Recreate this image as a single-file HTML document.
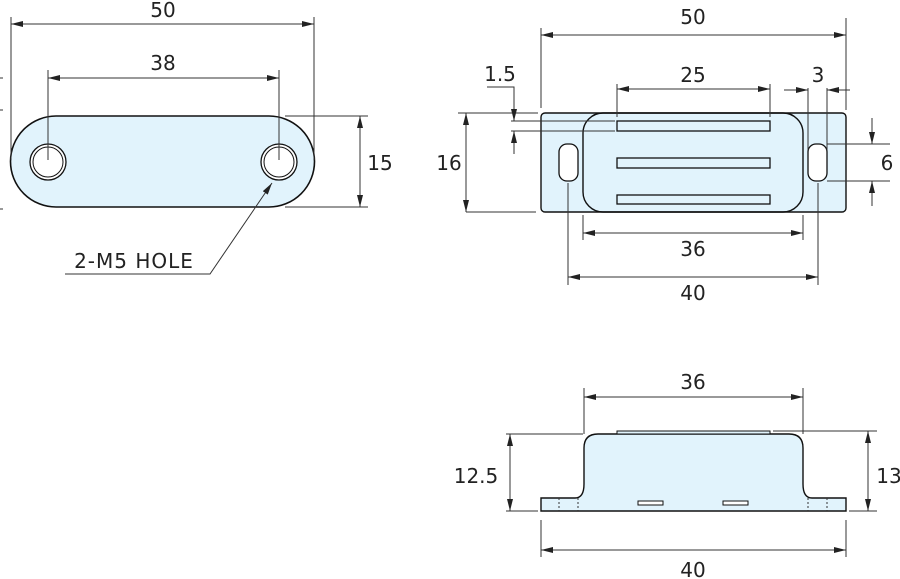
<!DOCTYPE html>
<html><head><meta charset="utf-8"><style>
html,body{margin:0;padding:0;background:#fff;}
svg{display:block;}
text{font-family:"DejaVu Sans","Liberation Sans",sans-serif;font-size:20px;fill:#222;text-anchor:middle;}
</style></head><body>
<svg width="900" height="579" viewBox="0 0 900 579" xmlns="http://www.w3.org/2000/svg">
<defs>
<marker id="a" viewBox="0 0 12 6" refX="12" refY="3" markerWidth="12" markerHeight="6" orient="auto-start-reverse" markerUnits="userSpaceOnUse">
<path d="M0,0 L12,3 L0,6 Z" fill="#222"/></marker>
</defs>
<g stroke="#333" stroke-width="1" fill="none">
<!-- LEFT VIEW -->
<path d="M56,116 H269 A45.5,45.5 0 0 1 269,207 H56 A45.5,45.5 0 0 1 56,116 Z" fill="#e1f3fc" stroke="#111" stroke-width="1.6"/>
<circle cx="48" cy="162" r="18" fill="#fff" stroke="#111" stroke-width="1.3"/>
<circle cx="48" cy="162" r="15" stroke="#111" stroke-width="1"/>
<circle cx="279" cy="162" r="18" fill="#fff" stroke="#111" stroke-width="1.3"/>
<circle cx="279" cy="162" r="15" stroke="#111" stroke-width="1"/>
<line x1="11" y1="17" x2="11" y2="160"/>
<line x1="314" y1="17" x2="314" y2="160"/>
<line x1="11" y1="24" x2="314" y2="24" marker-start="url(#a)" marker-end="url(#a)"/>
<line x1="48" y1="70" x2="48" y2="160"/>
<line x1="279" y1="70" x2="279" y2="160"/>
<line x1="48" y1="78" x2="279" y2="78" marker-start="url(#a)" marker-end="url(#a)"/>
<line x1="285" y1="116" x2="368" y2="116"/>
<line x1="285" y1="207" x2="368" y2="207"/>
<line x1="360" y1="116" x2="360" y2="207" marker-start="url(#a)" marker-end="url(#a)"/>
<polyline points="65,274 210,274 272,183" marker-end="url(#a)"/>
<line x1="0" y1="78" x2="3" y2="78"/><line x1="0" y1="110" x2="3" y2="110"/><line x1="0" y1="209" x2="3" y2="209"/>

<!-- TOP RIGHT VIEW -->
<rect x="541" y="113" width="305" height="99" rx="4" fill="#e1f3fc" stroke="#111" stroke-width="1.4"/>
<rect x="583" y="113" width="220" height="99" rx="20" stroke="#111" stroke-width="1.4"/>
<rect x="617" y="121" width="153" height="10" stroke="#111" stroke-width="1.3"/>
<rect x="617" y="158" width="153" height="10" stroke="#111" stroke-width="1.3"/>
<rect x="617" y="195" width="153" height="9" stroke="#111" stroke-width="1.3"/>
<rect x="559" y="144" width="19" height="37" rx="8" fill="#fff" stroke="#111" stroke-width="1.3"/>
<rect x="808" y="144" width="19" height="37" rx="8" fill="#fff" stroke="#111" stroke-width="1.3"/>
<line x1="541" y1="28" x2="541" y2="108"/>
<line x1="846" y1="18" x2="846" y2="110"/>
<line x1="541" y1="35" x2="846" y2="35" marker-start="url(#a)" marker-end="url(#a)"/>
<line x1="617" y1="84" x2="617" y2="117"/>
<line x1="770" y1="84" x2="770" y2="117"/>
<line x1="617" y1="89" x2="770" y2="89" marker-start="url(#a)" marker-end="url(#a)"/>
<line x1="808" y1="88" x2="808" y2="150"/>
<line x1="827" y1="88" x2="827" y2="150"/>
<line x1="784" y1="90" x2="808" y2="90" marker-end="url(#a)"/>
<line x1="850" y1="90" x2="827" y2="90" marker-end="url(#a)"/>
<line x1="458" y1="113" x2="538" y2="113"/>
<line x1="466" y1="212" x2="536" y2="212"/>
<line x1="466" y1="113" x2="466" y2="212" marker-start="url(#a)" marker-end="url(#a)"/>
<line x1="511" y1="121" x2="615" y2="121"/>
<line x1="511" y1="131" x2="615" y2="131"/>
<polyline points="487,87 514,87 514,121" marker-end="url(#a)"/>
<line x1="514" y1="154" x2="514" y2="131" marker-end="url(#a)"/>
<line x1="827" y1="144" x2="890" y2="144"/>
<line x1="827" y1="181" x2="890" y2="181"/>
<line x1="872" y1="118" x2="872" y2="144" marker-end="url(#a)"/>
<line x1="872" y1="206" x2="872" y2="181" marker-end="url(#a)"/>
<line x1="583" y1="215" x2="583" y2="240"/>
<line x1="803" y1="215" x2="803" y2="240"/>
<line x1="583" y1="233" x2="803" y2="233" marker-start="url(#a)" marker-end="url(#a)"/>
<line x1="568" y1="183" x2="568" y2="285"/>
<line x1="818" y1="183" x2="818" y2="285"/>
<line x1="568" y1="277" x2="818" y2="277" marker-start="url(#a)" marker-end="url(#a)"/>

<!-- BOTTOM VIEW -->
<path d="M541,498 H575 Q584,498 584,484 V448 Q584,434 598,434 H789 Q803,434 803,448 V484 Q803,498 812,498 H846 V511 H541 Z" fill="#e1f3fc" stroke="#111" stroke-width="1.4"/>
<rect x="617" y="431" width="153" height="3" fill="#e1f3fc" stroke="#111" stroke-width="1"/>
<rect x="638" y="501" width="25" height="4" fill="#fff" stroke="#111" stroke-width="1"/>
<rect x="723" y="501" width="25" height="4" fill="#fff" stroke="#111" stroke-width="1"/>
<g stroke-dasharray="2,2"><line x1="559" y1="498" x2="559" y2="511"/><line x1="578" y1="498" x2="578" y2="511"/><line x1="808" y1="498" x2="808" y2="511"/><line x1="827" y1="498" x2="827" y2="511"/></g>
<line x1="584" y1="388" x2="584" y2="434"/>
<line x1="803" y1="388" x2="803" y2="434"/>
<line x1="584" y1="397" x2="803" y2="397" marker-start="url(#a)" marker-end="url(#a)"/>
<line x1="506" y1="434" x2="583" y2="434"/>
<line x1="506" y1="511" x2="538" y2="511"/>
<line x1="510" y1="434" x2="510" y2="511" marker-start="url(#a)" marker-end="url(#a)"/>
<line x1="773" y1="431" x2="877" y2="431"/>
<line x1="849" y1="511" x2="877" y2="511"/>
<line x1="868" y1="431" x2="868" y2="511" marker-start="url(#a)" marker-end="url(#a)"/>
<line x1="541" y1="520" x2="541" y2="557"/>
<line x1="846" y1="520" x2="846" y2="557"/>
<line x1="541" y1="550" x2="846" y2="550" marker-start="url(#a)" marker-end="url(#a)"/>
</g>
<text x="163" y="17">50</text>
<text x="163" y="70">38</text>
<text x="380" y="170">15</text>
<text x="134" y="268" style="letter-spacing:1px">2-M5 HOLE</text>
<text x="693" y="24">50</text>
<text x="693" y="82">25</text>
<text x="818" y="82">3</text>
<text x="500" y="81">1.5</text>
<text x="449" y="170">16</text>
<text x="887" y="170">6</text>
<text x="693" y="256">36</text>
<text x="693" y="300">40</text>
<text x="693" y="389">36</text>
<text x="476" y="483">12.5</text>
<text x="889" y="483">13</text>
<text x="693" y="577">40</text>
</svg>
</body></html>
